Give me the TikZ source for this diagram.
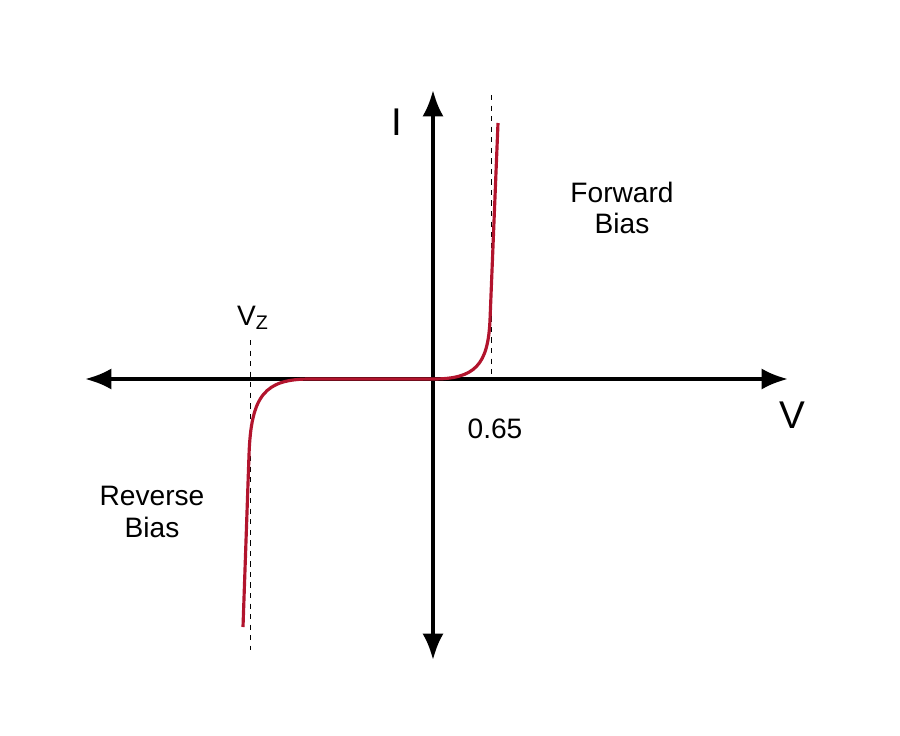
\documentclass[tikz,border=0pt]{standalone}
\usepackage{fontspec}
\setmainfont{Liberation Sans}
\usetikzlibrary{arrows.meta,calc}
\tikzstyle{axis}=[line width=2.2pt, {Latex[length=15pt,width=12pt]}-{Latex[length=15pt,width=12pt]}]
\tikzstyle{guide}=[thin, dash pattern=on 3pt off 3pt]
\tikzstyle{label}=[font=\fontsize{16}{18}\selectfont, align=center]
\tikzstyle{big}=[font=\fontsize{22}{24}\selectfont]
\definecolor{curvered}{RGB}{178,20,45}
\begin{document}
\begin{tikzpicture}[x=0.02cm,y=-0.02cm]
    \useasboundingbox (0,0) rectangle (900,735);

    \coordinate (Vleft) at (85,379);
    \coordinate (Vright) at (788,379);
    \coordinate (Itop) at (433,90);
    \coordinate (Ibot) at (433,660);
    \coordinate (Origin) at (433,379);

    \draw[axis] (Vleft) -- (Vright);
    \draw[axis] (Ibot) -- (Itop);

    \coordinate (Fwdtop) at (491,95);
    \coordinate (Fwdbot) at (491,379);
    \coordinate (Revtop) at (250,340);
    \coordinate (Revbot) at (250,650);
    \draw[guide] (Fwdtop) -- (Fwdbot);
    \draw[guide] (Revtop) -- (Revbot);

    \node (Ilab) [big] at (397,122) {I};
    \node (Vlab) [big] at (792,415) {V};
    \node (Knee) [label] at (495,429) {0.65};
    \node (Vz) [label] at (253,318) {V\textsubscript{Z}};
    \node (Fwd) [label] at (622,208) {Forward\\Bias};
    \node (Rev) [label] at (152,512) {Reverse\\Bias};

    \draw[curvered, line width=1.8pt]
        (243,627) -- (249,455)
        .. controls (251,395) and (265,379) .. (310,379)
        -- (Origin)
        .. controls (475,379) and (488,365) .. (490,320)
        -- (498,123);
\end{tikzpicture}
\end{document}
